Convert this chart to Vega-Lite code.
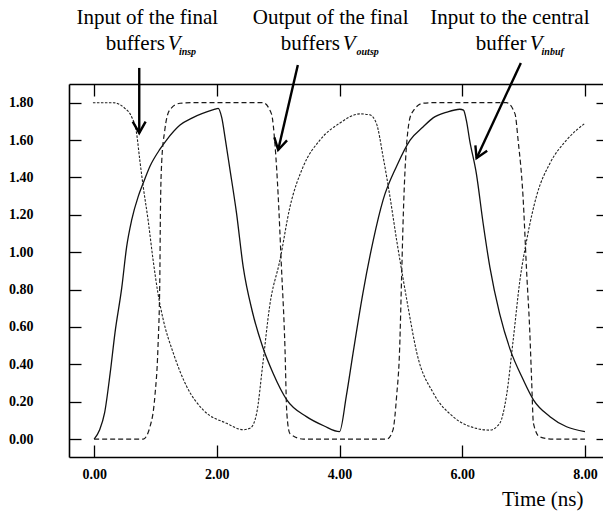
{
  "$schema": "https://vega.github.io/schema/vega-lite/v6.json",
  "width": 534,
  "height": 373,
  "padding": {"left": 69, "top": 84, "right": 0, "bottom": 55},
  "autosize": {"type": "none"},
  "background": "white",
  "config": {"view": {"stroke": null}, "axis": {"grid": false, "labelFlush": false, "labelOverlap": false}},
  "datasets": {
    "curves": [
      {"s": "inbuf", "t": 0.0, "v": 0.0}, {"s": "inbuf", "t": 0.09, "v": 0.05}, {"s": "inbuf", "t": 0.17, "v": 0.14},
      {"s": "inbuf", "t": 0.26, "v": 0.35}, {"s": "inbuf", "t": 0.34, "v": 0.57}, {"s": "inbuf", "t": 0.45, "v": 0.81},
      {"s": "inbuf", "t": 0.53, "v": 1.03}, {"s": "inbuf", "t": 0.61, "v": 1.17}, {"s": "inbuf", "t": 0.72, "v": 1.30},
      {"s": "inbuf", "t": 0.80, "v": 1.37}, {"s": "inbuf", "t": 0.91, "v": 1.46}, {"s": "inbuf", "t": 1.07, "v": 1.55},
      {"s": "inbuf", "t": 1.18, "v": 1.60}, {"s": "inbuf", "t": 1.40, "v": 1.68}, {"s": "inbuf", "t": 1.61, "v": 1.72},
      {"s": "inbuf", "t": 1.97, "v": 1.765}, {"s": "inbuf", "t": 2.02, "v": 1.77}, {"s": "inbuf", "t": 2.08, "v": 1.72},
      {"s": "inbuf", "t": 2.14, "v": 1.60}, {"s": "inbuf", "t": 2.21, "v": 1.45}, {"s": "inbuf", "t": 2.32, "v": 1.21},
      {"s": "inbuf", "t": 2.43, "v": 0.92}, {"s": "inbuf", "t": 2.58, "v": 0.68}, {"s": "inbuf", "t": 2.75, "v": 0.49},
      {"s": "inbuf", "t": 2.92, "v": 0.35}, {"s": "inbuf", "t": 3.14, "v": 0.21}, {"s": "inbuf", "t": 3.46, "v": 0.12},
      {"s": "inbuf", "t": 3.75, "v": 0.07}, {"s": "inbuf", "t": 4.0, "v": 0.04}, {"s": "inbuf", "t": 4.11, "v": 0.23},
      {"s": "inbuf", "t": 4.22, "v": 0.46}, {"s": "inbuf", "t": 4.38, "v": 0.78}, {"s": "inbuf", "t": 4.55, "v": 1.065},
      {"s": "inbuf", "t": 4.71, "v": 1.28}, {"s": "inbuf", "t": 4.93, "v": 1.46}, {"s": "inbuf", "t": 5.15, "v": 1.60},
      {"s": "inbuf", "t": 5.36, "v": 1.67}, {"s": "inbuf", "t": 5.53, "v": 1.72}, {"s": "inbuf", "t": 5.75, "v": 1.75},
      {"s": "inbuf", "t": 5.96, "v": 1.765}, {"s": "inbuf", "t": 6.02, "v": 1.76}, {"s": "inbuf", "t": 6.07, "v": 1.70},
      {"s": "inbuf", "t": 6.12, "v": 1.60}, {"s": "inbuf", "t": 6.23, "v": 1.42}, {"s": "inbuf", "t": 6.34, "v": 1.155},
      {"s": "inbuf", "t": 6.45, "v": 0.92}, {"s": "inbuf", "t": 6.61, "v": 0.67}, {"s": "inbuf", "t": 6.78, "v": 0.48},
      {"s": "inbuf", "t": 6.99, "v": 0.32}, {"s": "inbuf", "t": 7.16, "v": 0.21}, {"s": "inbuf", "t": 7.43, "v": 0.12},
      {"s": "inbuf", "t": 7.70, "v": 0.066}, {"s": "inbuf", "t": 8.0, "v": 0.04},

      {"s": "insp", "t": -0.02, "v": 1.80}, {"s": "insp", "t": 0.31, "v": 1.80}, {"s": "insp", "t": 0.50, "v": 1.77},
      {"s": "insp", "t": 0.61, "v": 1.725}, {"s": "insp", "t": 0.69, "v": 1.64}, {"s": "insp", "t": 0.745, "v": 1.49},
      {"s": "insp", "t": 0.80, "v": 1.35}, {"s": "insp", "t": 0.88, "v": 1.17}, {"s": "insp", "t": 0.96, "v": 0.96},
      {"s": "insp", "t": 1.04, "v": 0.78}, {"s": "insp", "t": 1.125, "v": 0.64}, {"s": "insp", "t": 1.29, "v": 0.46},
      {"s": "insp", "t": 1.51, "v": 0.28}, {"s": "insp", "t": 1.78, "v": 0.155}, {"s": "insp", "t": 2.16, "v": 0.084},
      {"s": "insp", "t": 2.43, "v": 0.05}, {"s": "insp", "t": 2.55, "v": 0.06}, {"s": "insp", "t": 2.65, "v": 0.14},
      {"s": "insp", "t": 2.75, "v": 0.405}, {"s": "insp", "t": 2.86, "v": 0.71}, {"s": "insp", "t": 3.03, "v": 0.96},
      {"s": "insp", "t": 3.19, "v": 1.24}, {"s": "insp", "t": 3.41, "v": 1.46}, {"s": "insp", "t": 3.68, "v": 1.60},
      {"s": "insp", "t": 4.0, "v": 1.69}, {"s": "insp", "t": 4.33, "v": 1.74}, {"s": "insp", "t": 4.49, "v": 1.735},
      {"s": "insp", "t": 4.60, "v": 1.69}, {"s": "insp", "t": 4.71, "v": 1.51}, {"s": "insp", "t": 4.82, "v": 1.30},
      {"s": "insp", "t": 4.93, "v": 1.065}, {"s": "insp", "t": 5.04, "v": 0.85}, {"s": "insp", "t": 5.12, "v": 0.70},
      {"s": "insp", "t": 5.26, "v": 0.46}, {"s": "insp", "t": 5.53, "v": 0.245}, {"s": "insp", "t": 5.85, "v": 0.12},
      {"s": "insp", "t": 6.23, "v": 0.057}, {"s": "insp", "t": 6.45, "v": 0.048}, {"s": "insp", "t": 6.61, "v": 0.084},
      {"s": "insp", "t": 6.72, "v": 0.23}, {"s": "insp", "t": 6.83, "v": 0.53}, {"s": "insp", "t": 6.94, "v": 0.85},
      {"s": "insp", "t": 7.05, "v": 1.065}, {"s": "insp", "t": 7.21, "v": 1.30}, {"s": "insp", "t": 7.43, "v": 1.476},
      {"s": "insp", "t": 7.70, "v": 1.60}, {"s": "insp", "t": 8.0, "v": 1.69},

      {"s": "outsp", "t": 0.0, "v": 0.0}, {"s": "outsp", "t": 0.80, "v": 0.0}, {"s": "outsp", "t": 0.91, "v": 0.066},
      {"s": "outsp", "t": 0.99, "v": 0.23}, {"s": "outsp", "t": 1.04, "v": 0.49}, {"s": "outsp", "t": 1.07, "v": 0.85},
      {"s": "outsp", "t": 1.08, "v": 1.21}, {"s": "outsp", "t": 1.10, "v": 1.476}, {"s": "outsp", "t": 1.15, "v": 1.65},
      {"s": "outsp", "t": 1.23, "v": 1.76}, {"s": "outsp", "t": 1.40, "v": 1.797}, {"s": "outsp", "t": 1.60, "v": 1.80},
      {"s": "outsp", "t": 2.75, "v": 1.80}, {"s": "outsp", "t": 2.89, "v": 1.74}, {"s": "outsp", "t": 2.95, "v": 1.565},
      {"s": "outsp", "t": 3.0, "v": 1.30}, {"s": "outsp", "t": 3.05, "v": 0.94}, {"s": "outsp", "t": 3.11, "v": 0.49},
      {"s": "outsp", "t": 3.14, "v": 0.14}, {"s": "outsp", "t": 3.19, "v": 0.03}, {"s": "outsp", "t": 3.41, "v": 0.0},
      {"s": "outsp", "t": 4.77, "v": 0.0}, {"s": "outsp", "t": 4.87, "v": 0.048}, {"s": "outsp", "t": 4.93, "v": 0.23},
      {"s": "outsp", "t": 4.98, "v": 0.49}, {"s": "outsp", "t": 5.01, "v": 0.85}, {"s": "outsp", "t": 5.04, "v": 1.21},
      {"s": "outsp", "t": 5.09, "v": 1.565}, {"s": "outsp", "t": 5.17, "v": 1.74}, {"s": "outsp", "t": 5.36, "v": 1.797},
      {"s": "outsp", "t": 5.53, "v": 1.80}, {"s": "outsp", "t": 6.72, "v": 1.80}, {"s": "outsp", "t": 6.86, "v": 1.74},
      {"s": "outsp", "t": 6.91, "v": 1.60}, {"s": "outsp", "t": 6.99, "v": 1.30}, {"s": "outsp", "t": 7.05, "v": 0.89},
      {"s": "outsp", "t": 7.10, "v": 0.58}, {"s": "outsp", "t": 7.13, "v": 0.32}, {"s": "outsp", "t": 7.16, "v": 0.084},
      {"s": "outsp", "t": 7.26, "v": 0.012}, {"s": "outsp", "t": 7.48, "v": 0.0}, {"s": "outsp", "t": 8.0, "v": 0.0}
    ],
    "arrows": [
      {"seg": "a1s", "o": 0, "t": 0.735, "v": 1.986}, {"seg": "a1s", "o": 1, "t": 0.735, "v": 1.638},
      {"seg": "a1h", "o": 0, "t": 0.628, "v": 1.699}, {"seg": "a1h", "o": 1, "t": 0.735, "v": 1.638}, {"seg": "a1h", "o": 2, "t": 0.839, "v": 1.699},
      {"seg": "a2s", "o": 0, "t": 3.320, "v": 2.002}, {"seg": "a2s", "o": 1, "t": 2.999, "v": 1.547},
      {"seg": "a2h", "o": 0, "t": 2.937, "v": 1.614}, {"seg": "a2h", "o": 1, "t": 2.999, "v": 1.547}, {"seg": "a2h", "o": 2, "t": 3.144, "v": 1.598},
      {"seg": "a3s", "o": 0, "t": 6.955, "v": 2.013}, {"seg": "a3s", "o": 1, "t": 6.233, "v": 1.503},
      {"seg": "a3h", "o": 0, "t": 6.214, "v": 1.572}, {"seg": "a3h", "o": 1, "t": 6.233, "v": 1.503}, {"seg": "a3h", "o": 2, "t": 6.406, "v": 1.543}
    ],
    "titles": [
      {"txt": "Input of the final", "t": 0.867, "v": 2.222},
      {"txt": "Output of the final", "t": 3.855, "v": 2.222},
      {"txt": "Input to the central", "t": 6.776, "v": 2.222}
    ],
    "words": [
      {"txt": "buffers", "t": 1.152, "v": 2.082},
      {"txt": "buffers", "t": 4.005, "v": 2.082},
      {"txt": "buffer", "t": 7.048, "v": 2.082}
    ],
    "vees": [
      {"txt": "V", "t": 1.201, "v": 2.082},
      {"txt": "V", "t": 4.054, "v": 2.082},
      {"txt": "V", "t": 7.102, "v": 2.082}
    ],
    "subs": [
      {"txt": "insp", "t": 1.381, "v": 2.056},
      {"txt": "outsp", "t": 4.277, "v": 2.056},
      {"txt": "inbuf", "t": 7.293, "v": 2.056}
    ]
  },
  "resolve": {"axis": {"x": "independent", "y": "independent"}},
  "layer": [
    {
      "data": {"name": "curves"},
      "transform": [{"filter": "datum.s === 'inbuf'"}],
      "mark": {"type": "line", "color": "#111111", "strokeWidth": 1.3, "interpolate": "monotone"},
      "encoding": {
        "x": {"field": "t", "type": "quantitative", "scale": {"domain": [-0.41, 8.294], "nice": false, "zero": false},
          "axis": {"orient": "bottom", "values": [0, 2, 4, 6, 8], "format": ".2f", "domainColor": "black", "domainWidth": 1.6,
            "tickColor": "black", "tickWidth": 1.3, "tickSize": -12, "labelPadding": 22,
            "labelFont": "Liberation Serif", "labelFontWeight": "bold", "labelFontSize": 14, "labelColor": "black",
            "title": "Time (ns)", "titleFont": "Liberation Serif", "titleFontSize": 21, "titleFontWeight": "normal", "titleColor": "black",
            "titleX": 514, "titleY": 48, "titleAlign": "right", "titleBaseline": "alphabetic", "titleAnchor": "end"}},
        "y": {"field": "v", "type": "quantitative", "scale": {"domain": [-0.096, 1.9], "nice": false, "zero": false},
          "axis": {"orient": "left", "values": [0, 0.2, 0.4, 0.6, 0.8, 1.0, 1.2, 1.4, 1.6, 1.8], "format": ".2f",
            "domainColor": "black", "domainWidth": 1.6, "tickColor": "black", "tickWidth": 1.3, "tickSize": -12, "labelPadding": 48,
            "labelFont": "Liberation Serif", "labelFontWeight": "bold", "labelFontSize": 14, "labelColor": "black", "title": null}},
        "order": {"field": "t", "type": "quantitative"}
      }
    },
    {
      "data": {"name": "curves"},
      "transform": [{"filter": "datum.s === 'insp'"}],
      "mark": {"type": "line", "color": "#222222", "strokeWidth": 1.1, "strokeDash": [2.5, 1.5], "interpolate": "monotone"},
      "encoding": {
        "x": {"field": "t", "type": "quantitative",
          "axis": {"orient": "top", "values": [0, 2, 4, 6, 8], "labels": false, "domainColor": "black", "domainWidth": 1.6,
            "tickColor": "black", "tickWidth": 1.3, "tickSize": -12, "title": null}},
        "y": {"field": "v", "type": "quantitative",
          "axis": {"orient": "right", "values": [0, 0.2, 0.4, 0.6, 0.8, 1.0, 1.2, 1.4, 1.6, 1.8], "labels": false, "domain": false,
            "tickColor": "black", "tickWidth": 1.3, "tickSize": -7, "title": null}},
        "order": {"field": "t", "type": "quantitative"}
      }
    },
    {
      "data": {"name": "curves"},
      "transform": [{"filter": "datum.s === 'outsp'"}],
      "mark": {"type": "line", "color": "#1a1a1a", "strokeWidth": 1.2, "strokeDash": [5, 3], "interpolate": "monotone"},
      "encoding": {
        "x": {"field": "t", "type": "quantitative", "axis": null},
        "y": {"field": "v", "type": "quantitative", "axis": null},
        "order": {"field": "t", "type": "quantitative"}
      }
    },
    {
      "data": {"name": "arrows"},
      "mark": {"type": "line", "color": "black", "strokeWidth": 2.4, "strokeJoin": "miter", "clip": false},
      "encoding": {
        "x": {"field": "t", "type": "quantitative", "axis": null},
        "y": {"field": "v", "type": "quantitative", "axis": null},
        "detail": {"field": "seg"},
        "order": {"field": "o", "type": "quantitative"}
      }
    },
    {
      "data": {"name": "titles"},
      "mark": {"type": "text", "font": "Liberation Serif", "fontSize": 21, "color": "black", "align": "center", "baseline": "alphabetic"},
      "encoding": {
        "x": {"field": "t", "type": "quantitative", "axis": null},
        "y": {"field": "v", "type": "quantitative", "axis": null},
        "text": {"field": "txt"}
      }
    },
    {
      "data": {"name": "words"},
      "mark": {"type": "text", "font": "Liberation Serif", "fontSize": 21, "color": "black", "align": "right", "baseline": "alphabetic"},
      "encoding": {
        "x": {"field": "t", "type": "quantitative", "axis": null},
        "y": {"field": "v", "type": "quantitative", "axis": null},
        "text": {"field": "txt"}
      }
    },
    {
      "data": {"name": "vees"},
      "mark": {"type": "text", "font": "Liberation Serif", "fontSize": 21, "fontStyle": "italic", "color": "black", "align": "left", "baseline": "alphabetic"},
      "encoding": {
        "x": {"field": "t", "type": "quantitative", "axis": null},
        "y": {"field": "v", "type": "quantitative", "axis": null},
        "text": {"field": "txt"}
      }
    },
    {
      "data": {"name": "subs"},
      "mark": {"type": "text", "font": "Liberation Serif", "fontSize": 10, "fontStyle": "italic", "fontWeight": "bold", "color": "black", "align": "left", "baseline": "alphabetic"},
      "encoding": {
        "x": {"field": "t", "type": "quantitative", "axis": null},
        "y": {"field": "v", "type": "quantitative", "axis": null},
        "text": {"field": "txt"}
      }
    }
  ]
}
